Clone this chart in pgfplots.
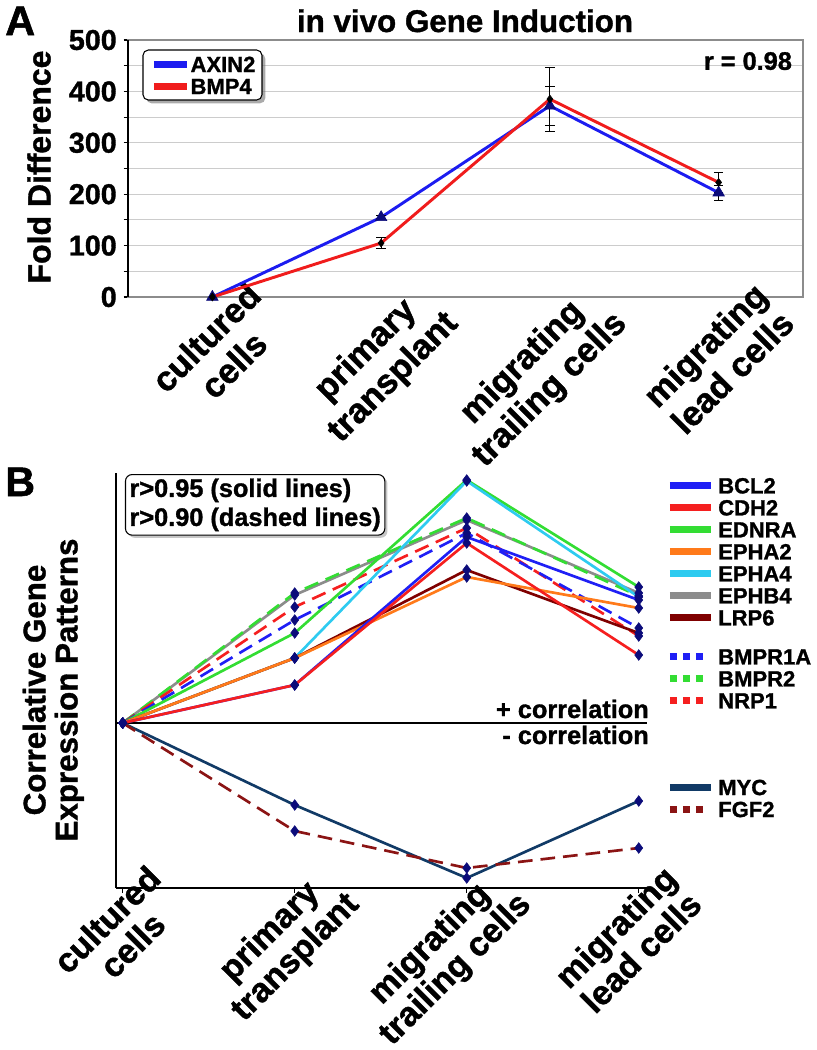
\documentclass[border=0pt]{standalone}
\usepackage{fontspec}
\setmainfont{Liberation Sans}[BoldFeatures={FakeBold=1.2}]
\usepackage{pgfplots}
\usepackage{pgfplotstable}
\pgfplotsset{compat=1.18}
\usetikzlibrary{shadows}

\definecolor{cBlueA}{HTML}{1C1CF0}
\definecolor{cRedA}{HTML}{F01C1C}
\definecolor{cNavy}{HTML}{0B0B7A}
\definecolor{cBCL2}{HTML}{1F1FF5}
\definecolor{cCDH2}{HTML}{F51F1F}
\definecolor{cEDNRA}{HTML}{33DD33}
\definecolor{cEPHA2}{HTML}{FF7A1A}
\definecolor{cEPHA4}{HTML}{2ECBF0}
\definecolor{cEPHB4}{HTML}{8C8C8C}
\definecolor{cLRP6}{HTML}{7F0000}
\definecolor{cMYC}{HTML}{113A66}
\definecolor{cFGF2}{HTML}{8B1414}

\newcommand{\fs}[2]{\fontsize{#1}{#2}\selectfont\bfseries}

% panel A: fold difference, symmetric errors
\pgfplotstableread{
x AXIN2 AXIN2e BMP4 BMP4e
0 0   0  0   0
1 155 3  105 10
2 372 38 385 62
3 203 15 223 19
}\tabA

% panel B: relative patterns (arbitrary units, 0 = baseline)
\pgfplotstableread{
x BCL2 CDH2 EDNRA EPHA2 EPHA4 EPHB4 LRP6 BMPR1A BMPR2 NRP1 MYC FGF2
0 0   0   0   0   0   0   0   0   0   0   0    0
1 38  38  90  65  65  128 65  103 130 116 -82  -108
2 186 180 243 146 242 203 153 190 205 195 -155 -145
3 123 68  136 115 126 130 90  95  127 87  -78  -125
}\tabB

\begin{document}
\begin{tikzpicture}
\path[use as bounding box] (0pt,0pt) rectangle (612.75pt,-787.5pt);

%% ---------- A ----------
\begin{axis}[
  at={(96pt,-222.75pt)}, anchor=south west,
  width=506.25pt, height=192.75pt, scale only axis,
  xmin=-0.5, xmax=3.5, ymin=0, ymax=500,
  xtick={0,1,2,3},
  xticklabels={{cultured\\cells},{primary\\transplant},{migrating\\trailing cells},{migrating\\lead cells}},
  xticklabel style={rotate=45, anchor=north east, align=center, inner sep=0pt, xshift=29pt, yshift=-6pt, font=\fs{26}{29}},
  x tick style={draw=none},
  ytick={0,100,...,500}, minor ytick={50,150,...,450},
  ytick pos=left, tick align=outside,
  major tick length=3.25pt, minor tick length=3.25pt,
  y tick style={black, line width=0.8pt},
  ymajorgrids, yminorgrids,
  major grid style={draw=black!20, line width=0.8pt},
  minor grid style={draw=black!20, line width=0.8pt},
  axis line style={draw=black!45, line width=0.8pt},
  yticklabel style={font=\fs{21.5}{21.5}, inner xsep=0pt, xshift=-5pt},
  /pgf/number format/assume math mode=true,
  clip=false,
  legend image code/.code={\draw[#1] (0pt,0pt) -- (25pt,0pt);},
  legend style={at={(0.0222,0.961)}, anchor=north west, draw=none, fill=none,
    font=\fs{16.5}{16.5}, inner xsep=5.25pt, inner ysep=4.5pt, row sep=4.7pt, column sep=0pt,
    nodes={inner sep=0pt, text height=11.8pt, text depth=0pt}, cells={anchor=west}},
]
\draw[black, line width=1pt] (rel axis cs:0,0) -- (rel axis cs:0,1);
% legend frame with shadow
\fill[black!60, opacity=0.55, rounded corners=4pt]
  ([xshift=2.5pt,yshift=-2.5pt]rel axis cs:0.0222,0.7665) rectangle ([xshift=2.5pt,yshift=-2.5pt]rel axis cs:0.1985,0.961);
\draw[black, line width=0.8pt, fill=white, rounded corners=4pt]
  (rel axis cs:0.0222,0.7665) rectangle (rel axis cs:0.1985,0.961);

\addlegendimage{cBlueA, line width=5.25pt}
\addlegendentry{AXIN2}
\addlegendimage{cRedA, line width=5.25pt}
\addlegendentry{BMP4}

\addplot[cBlueA, line width=2.2pt, forget plot,
  mark=triangle*, mark size=5pt, mark options={fill=cNavy, draw=cNavy, line width=0.4pt},
  error bars/.cd, y dir=both, y explicit,
  error bar style={black, line width=0.6pt},
  error mark options={rotate=90, black, mark size=3.5pt, line width=0.6pt}]
  table[x=x, y=AXIN2, y error=AXIN2e] {\tabA};
\addplot[cRedA, line width=2.2pt, forget plot,
  mark=diamond*, mark size=3pt, mark options={fill=black, draw=black, line width=0.4pt},
  error bars/.cd, y dir=both, y explicit,
  error bar style={black, line width=0.6pt},
  error mark options={rotate=90, black, mark size=3.5pt, line width=0.6pt}]
  table[x=x, y=BMP4, y error=BMP4e] {\tabA};

\node[anchor=east, font=\fs{19}{19}, inner sep=0pt] at (rel axis cs:0.984,0.918) {r = 0.98};
\end{axis}

\node[anchor=base west, font=\fs{31}{31}, inner sep=0pt] at (3.75pt,-26.25pt) {A};
\node[anchor=base, font=\fs{23.5}{23.5}, inner sep=0pt] at (348.75pt,-24pt) {in vivo Gene Induction};
\node[rotate=90, font=\fs{24}{24}, inner sep=0pt] at (29.25pt,-125.25pt) {Fold Difference};

%% ---------- B ----------
\begin{axis}[
  at={(87pt,-666pt)}, anchor=south west,
  width=398.25pt, height=311.25pt, scale only axis,
  xmin=-0.039, xmax=3.048, ymin=-165, ymax=250,
  axis x line*=bottom, axis y line*=left,
  axis line style={black, line width=1.4pt},
  ytick=\empty,
  xtick={0,1,2,3},
  xticklabels={{cultured\\cells},{primary\\transplant},{migrating\\trailing cells},{migrating\\lead cells}},
  xticklabel style={rotate=45, anchor=north east, align=center, inner sep=0pt, xshift=28pt, yshift=4pt, font=\fs{25.5}{27}},
  tick align=outside, major tick length=3.75pt,
  x tick style={black, line width=1pt},
  clip=false,
  legend image code/.code={\draw[#1] (0pt,0pt) -- (30.75pt,0pt);},
  legend style={at={(1.0358,0.990)}, anchor=north west, draw=none, fill=none,
    inner sep=0pt, row sep=4.5pt, column sep=3pt, font=\fs{16.5}{16.5},
    nodes={inner sep=0pt, text height=12pt, text depth=0pt}, cells={anchor=west}},
]
\draw[black, line width=1.4pt] (axis cs:-0.039,0) -- (axis cs:3.048,0);

\addlegendimage{cBCL2, line width=5.25pt}\addlegendentry{BCL2}
\addlegendimage{cCDH2, line width=5.25pt}\addlegendentry{CDH2}
\addlegendimage{cEDNRA, line width=5.25pt}\addlegendentry{EDNRA}
\addlegendimage{cEPHA2, line width=5.25pt}\addlegendentry{EPHA2}
\addlegendimage{cEPHA4, line width=5.25pt}\addlegendentry{EPHA4}
\addlegendimage{cEPHB4, line width=5.25pt}\addlegendentry{EPHB4}
\addlegendimage{cLRP6, line width=5.25pt}\addlegendentry{LRP6}
\addlegendimage{empty legend}\addlegendentry[text height=8.25pt]{}
\addlegendimage{cBCL2, line width=5.25pt, dash pattern=on 5.25pt off 4.5pt, shorten >=6pt}\addlegendentry{BMPR1A}
\addlegendimage{cEDNRA, line width=5.25pt, dash pattern=on 5.25pt off 4.5pt, shorten >=6pt}\addlegendentry{BMPR2}
\addlegendimage{cCDH2, line width=5.25pt, dash pattern=on 5.25pt off 4.5pt, shorten >=6pt}\addlegendentry{NRP1}
\addlegendimage{empty legend}\addlegendentry[text height=44pt]{}
\addlegendimage{cMYC, line width=5.25pt}\addlegendentry{MYC}
\addlegendimage{cFGF2, line width=5.25pt, dash pattern=on 5.25pt off 4.5pt, shorten >=6pt}\addlegendentry{FGF2}

\addplot[cEPHB4, line width=2pt, forget plot] table[x=x, y=EPHB4] {\tabB};
\addplot[cEDNRA, line width=2pt, dash pattern=on 11pt off 6pt, forget plot] table[x=x, y=BMPR2] {\tabB};
\addplot[cCDH2, line width=2pt, dash pattern=on 11pt off 6pt, forget plot] table[x=x, y=NRP1] {\tabB};
\addplot[cBCL2, line width=2pt, dash pattern=on 11pt off 6pt, forget plot] table[x=x, y=BMPR1A] {\tabB};
\addplot[cEDNRA, line width=2pt, forget plot] table[x=x, y=EDNRA] {\tabB};
\addplot[cEPHA4, line width=2pt, forget plot] table[x=x, y=EPHA4] {\tabB};
\addplot[cLRP6, line width=2pt, forget plot] table[x=x, y=LRP6] {\tabB};
\addplot[cEPHA2, line width=2pt, forget plot] table[x=x, y=EPHA2] {\tabB};
\addplot[cBCL2, line width=2pt, forget plot] table[x=x, y=BCL2] {\tabB};
\addplot[cCDH2, line width=2pt, forget plot] table[x=x, y=CDH2] {\tabB};
\addplot[cMYC, line width=2pt, forget plot] table[x=x, y=MYC] {\tabB};
\addplot[cFGF2, line width=2pt, dash pattern=on 11pt off 6pt, forget plot] table[x=x, y=FGF2] {\tabB};

\pgfplotsinvokeforeach{BCL2,CDH2,EDNRA,EPHA2,EPHA4,EPHB4,LRP6,BMPR1A,BMPR2,NRP1,MYC,FGF2}{
  \addplot[only marks, mark=diamond*, mark size=4pt, mark options={fill=cNavy, draw=cNavy}, forget plot]
    table[x=x, y=#1] {\tabB};
}

\node[anchor=base east, font=\fs{19}{19}, inner sep=0pt] at (axis cs:3.06,5) {+ correlation};
\node[anchor=base east, font=\fs{19}{19}, inner sep=0pt] at (axis cs:3.06,-21) {- correlation};
\node[anchor=north west, draw=black, line width=0.8pt, rounded corners=5pt, fill=white,
  drop shadow={opacity=0.45, shadow xshift=2pt, shadow yshift=-2pt},
  align=left, font=\fs{19}{21.75}, inner sep=3pt] at (axis cs:0.013,249)
  {r>0.95 (solid lines)\\r>0.90 (dashed lines)};
\end{axis}

\node[anchor=base west, font=\fs{31}{31}, inner sep=0pt] at (3.75pt,-372pt) {B};
\node[rotate=90, align=center, font=\fs{23.5}{24}, inner sep=0pt] at (40pt,-517.5pt)
  {Correlative Gene\\Expression Patterns};
\end{tikzpicture}
\end{document}
